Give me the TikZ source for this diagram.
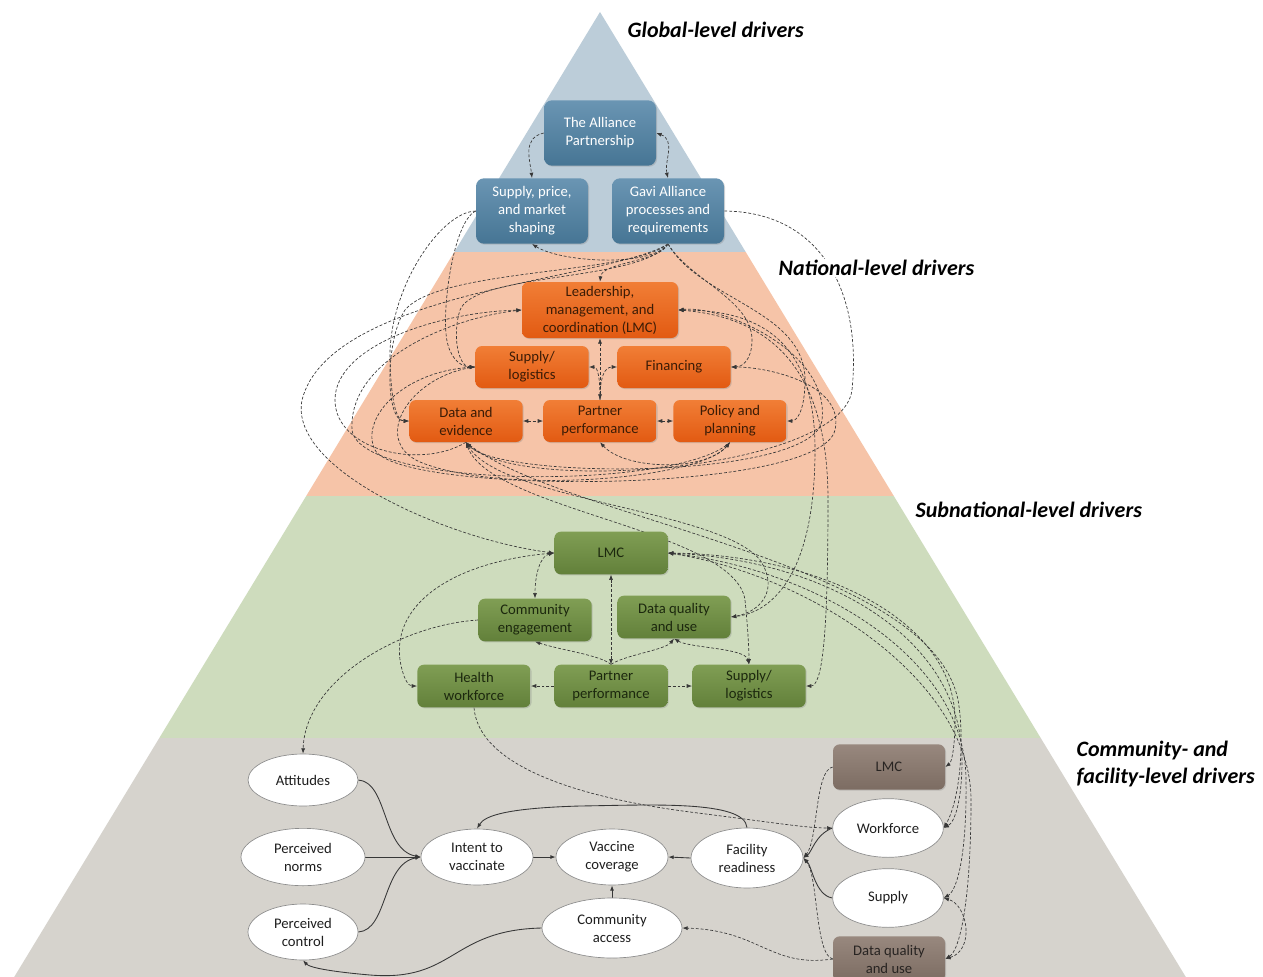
\documentclass[tikz,border=0pt]{standalone}
\usepackage{fontspec}
\setmainfont{Carlito}
\usetikzlibrary{arrows.meta,shadows,shapes.geometric}
\definecolor{cglob}{RGB}{188,205,217}
\definecolor{cnat}{RGB}{246,196,168}
\definecolor{csub}{RGB}{206,220,189}
\definecolor{ccom}{RGB}{214,211,205}
\definecolor{gtop}{RGB}{106,149,179}
\definecolor{gbot}{RGB}{70,117,148}
\definecolor{otop}{RGB}{241,126,54}
\definecolor{obot}{RGB}{226,90,18}
\definecolor{stop}{RGB}{128,158,84}
\definecolor{sbot}{RGB}{98,128,58}
\definecolor{btop}{RGB}{152,136,126}
\definecolor{bbot}{RGB}{124,108,98}
\definecolor{lc}{RGB}{55,55,55}
\definecolor{otxt}{RGB}{60,28,6}
\definecolor{stxt}{RGB}{28,40,14}
\definecolor{btxt}{RGB}{40,36,34}
\pgfdeclarelayer{bg}
\pgfdeclarelayer{mid}
\pgfsetlayers{bg,mid,main}
\begin{document}
\begin{tikzpicture}[x=0.75pt,y=-0.75pt,
  txt/.style={font=\fontsize{11}{13.5}\selectfont, align=center},
  shad/.style={drop shadow={shadow xshift=0.8pt,shadow yshift=-0.8pt,opacity=0.3}},
  gbox/.style={txt, shad, rounded corners=6pt, top color=gtop, bottom color=gbot, text=white, minimum width=84pt, minimum height=49pt, inner sep=1pt},
  obox/.style={txt, shad, rounded corners=5pt, top color=otop, bottom color=obot, text=otxt, minimum width=85pt, minimum height=31.5pt, inner sep=1pt},
  sbox/.style={txt, shad, rounded corners=5pt, top color=stop, bottom color=sbot, text=stxt, minimum width=85pt, minimum height=32pt, inner sep=1pt},
  bbox/.style={txt, shad, rounded corners=5pt, top color=btop, bottom color=bbot, text=btxt, minimum width=84pt, minimum height=34pt, inner sep=1pt},
  ell/.style={txt, ellipse, fill=white, draw={rgb,255:red,140;green,140;blue,140}, line width=0.5pt, inner sep=0pt, text={rgb,255:red,30;green,30;blue,30}},
  dl/.style={draw=lc, line width=0.5pt, dash pattern=on 2.2pt off 1.4pt},
  sl/.style={draw=lc, line width=0.65pt},
  ar/.style={-{Latex[length=4pt,width=3pt]}},
  br/.style={{Latex[length=4pt,width=3pt]}-{Latex[length=4pt,width=3pt]}},
  lab/.style={font=\fontsize{16.5}{20}\selectfont\bfseries\itshape, anchor=west, inner sep=1pt, fill=white, align=left}
]
\useasboundingbox (0,0) rectangle (1263,977);
\begin{pgfonlayer}{bg}
\fill[white] (0,0) rectangle (1263,977);
\fill[cglob] (600,12) -- (745.7,252) -- (454.3,252) -- cycle;
\fill[cnat] (454.3,252) -- (745.7,252) -- (893.8,496) -- (306.2,496) -- cycle;
\fill[csub] (306.2,496) -- (893.8,496) -- (1040.7,738) -- (159.3,738) -- cycle;
\fill[ccom] (159.3,738) -- (1040.7,738) -- (1185.8,977) -- (14.2,977) -- cycle;
\end{pgfonlayer}

% Global
\node[gbox] (alli) at (600,133) {The Alliance\\Partnership};
\node[gbox] (spm) at (532,211) {Supply, price,\\and market\\shaping};
\node[gbox] (gavi) at (668,211) {Gavi Alliance\\processes and\\requirements};
% National
\node[obox, minimum width=117pt, minimum height=42pt] (nlmc) at (600,310) {Leadership,\\management, and\\coordination (LMC)};
\node[obox] (nsup) at (532,367) {Supply/\\logistics};
\node[obox] (nfin) at (674,367) {Financing};
\node[obox] (ndat) at (466,421) {Data and\\evidence};
\node[obox] (npar) at (600,421) {Partner\\performance};
\node[obox] (npol) at (730,421) {Policy and\\planning};
% Subnational
\node[sbox] (slmc) at (611,553) {LMC};
\node[sbox] (scom) at (535,620) {Community\\engagement};
\node[sbox] (sdat) at (674,617) {Data quality\\and use};
\node[sbox] (shw) at (474,686) {Health\\workforce};
\node[sbox] (spar) at (611,686) {Partner\\performance};
\node[sbox] (ssup) at (749,686) {Supply/\\logistics};
% Community
\node[ell, minimum width=82.5pt, minimum height=39pt] (att) at (303,780) {Attitudes};
\node[ell, minimum width=93pt, minimum height=43pt] (norm) at (303,857) {Perceived\\norms};
\node[ell, minimum width=82.5pt, minimum height=42pt] (ctrl) at (303,932) {Perceived\\control};
\node[ell, minimum width=84pt, minimum height=42pt] (intent) at (477,857) {Intent to\\vaccinate};
\node[ell, minimum width=84pt, minimum height=42pt] (vacc) at (612,857) {Vaccine\\coverage};
\node[ell, minimum width=84pt, minimum height=45pt] (fac) at (747,858) {Facility\\readiness};
\node[ell, minimum width=105pt, minimum height=45pt] (cacc) at (612,928) {Community\\access};
\node[ell, minimum width=83pt, minimum height=44pt] (cwork) at (888,828) {Workforce};
\node[ell, minimum width=83pt, minimum height=44pt] (csup) at (888,898) {Supply};
\node[bbox] (clmc) at (889,767) {LMC};
\node[bbox] (cdat) at (889,959) {Data quality\\and use};

\begin{pgfonlayer}{mid}
% global
\draw[dl,ar] (alli.west) .. controls (522,138) and (530,160) .. (spm.north);
\draw[dl,br] (alli.east) .. controls (676,140) and (664,162) .. (gavi.north);
\draw[dl,ar] (gavi.south) .. controls (650,268) and (560,262) .. (spm.south);
\draw[dl,ar] (gavi.south) .. controls (660,262) and (602,262) .. (nlmc.north);
% global -> national left
\draw[dl,ar] (spm.west) .. controls (440,212) and (388,290) .. (390,360) .. controls (391,400) and (396,421) .. (ndat.west);
\draw[dl,ar] (spm.west) .. controls (452,222) and (440,320) .. (448,345) .. controls (452,360) and (462,367) .. (nsup.west);
\draw[dl,ar] (gavi.south) .. controls (630,275) and (440,268) .. (405,310) .. controls (385,340) and (385,421) .. (ndat.west);
\draw[dl,ar] (gavi.south) .. controls (640,282) and (475,272) .. (460,310) .. controls (452,335) and (458,367) .. (nsup.west);
\draw[dl,ar] (gavi.south) .. controls (610,280) and (330,290) .. (302,400) .. controls (288,470) and (450,540) .. (slmc.west);
% loops into national LMC west
\draw[dl,ar] (ndat.south) .. controls (420,470) and (335,450) .. (335,400) .. controls (335,345) and (440,312) .. (nlmc.west);
\draw[dl,ar] (npol.south) .. controls (680,490) and (360,490) .. (352,430) .. controls (348,360) and (450,318) .. (nlmc.west);
% bottom loops
\draw[dl,br] (nsup.west) .. controls (400,372) and (360,420) .. (375,450) .. controls (400,495) and (820,495) .. (835,430) .. controls (845,385) and (770,367) .. (nfin.east);
\draw[dl,ar] (nsup.west) .. controls (410,375) and (370,440) .. (420,462) .. controls (500,495) and (700,480) .. (npol.south);
\draw[dl,br] (npar.south) .. controls (625,470) and (705,472) .. (npol.south);
\draw[dl,br] (nlmc.east) .. controls (720,305) and (830,350) .. (822,420) .. controls (815,480) and (500,480) .. (ndat.south);
\draw[dl,ar] (gavi.east) .. controls (820,212) and (862,290) .. (852,390) .. controls (842,470) and (520,495) .. (ndat.south);
% right side from Gavi
\draw[dl,ar] (gavi.south) .. controls (690,280) and (752,300) .. (752,340) .. controls (752,360) and (742,367) .. (nfin.east);
\draw[dl,ar] (gavi.south) .. controls (700,300) and (805,310) .. (805,380) .. controls (805,410) and (797,421) .. (npol.east);
% national internal
\draw[dl,br] (nlmc.south) -- (npar.north);
\draw[dl,ar] (npar.north) .. controls (600,378) and (598,367) .. (nsup.east);
\draw[dl,ar] (npar.north) .. controls (600,378) and (604,367) .. (nfin.west);
\draw[dl,br] (ndat.east) -- (npar.west);
\draw[dl,br] (npar.east) -- (npol.west);
% national -> subnational
\draw[dl,br] (nlmc.east) .. controls (770,310) and (815,350) .. (815,450) .. controls (815,570) and (775,612) .. (sdat.east);
\draw[dl,br] (nlmc.east) .. controls (780,318) and (828,380) .. (828,500) .. controls (828,640) and (822,686) .. (ssup.east);
\draw[dl,br] (ndat.south) .. controls (490,510) and (735,530) .. (745,600) .. controls (748,630) and (749,650) .. (ssup.north);
\draw[dl,br] (ndat.south) .. controls (500,500) and (720,510) .. (760,560) .. controls (780,590) and (760,612) .. (sdat.east);
\draw[dl,ar] (ndat.south) .. controls (560,520) and (930,560) .. (958,700) .. controls (965,740) and (960,800) .. (cwork.east);
% subnational fan to community
\draw[dl,br] (slmc.east) .. controls (820,555) and (955,620) .. (955,720) .. controls (955,745) and (952,762) .. (clmc.east);
\draw[dl,br] (slmc.east) .. controls (830,560) and (962,640) .. (962,760) .. controls (962,800) and (955,822) .. (cwork.east);
\draw[dl,br] (slmc.east) .. controls (820,570) and (966,660) .. (966,780) .. controls (967,850) and (958,890) .. (csup.east);
\draw[dl,br] (slmc.east) .. controls (810,575) and (971,680) .. (971,800) .. controls (971,900) and (960,950) .. (cdat.east);
% subnational internal
\draw[dl,br] (slmc.south) -- (spar.north);
\draw[dl,br] (slmc.west) .. controls (540,556) and (535,575) .. (scom.north);
\draw[dl,ar] (spar.north) .. controls (600,655) and (560,650) .. (scom.south);
\draw[dl,ar] (spar.north) .. controls (625,655) and (665,650) .. (sdat.south);
\draw[dl,br] (sdat.south) .. controls (690,648) and (745,648) .. (ssup.north);
\draw[dl,ar] (spar.west) -- (shw.east);
\draw[dl,ar] (spar.east) -- (ssup.west);
\draw[dl,ar] (slmc.west) .. controls (460,560) and (392,600) .. (400,660) .. controls (403,678) and (408,686) .. (shw.west);
\draw[dl,ar] (scom.west) .. controls (400,625) and (305,680) .. (att.north);
\draw[dl,ar] (shw.south) .. controls (478,760) and (560,795) .. (690,812) .. controls (770,822) and (805,828) .. (cwork.west);
% community
\draw[sl,ar] (att.east) .. controls (388,782) and (382,850) .. (intent.west);
\draw[sl,ar] (norm.east) -- (intent.west);
\draw[sl,ar] (ctrl.east) .. controls (388,930) and (382,864) .. (intent.west);
\draw[sl,ar] (intent.east) -- (vacc.west);
\draw[sl,ar] (fac.west) -- (vacc.east);
\draw[sl,ar] (cacc.north) -- (vacc.south);
\draw[sl,ar] (cacc.west) .. controls (450,930) and (455,982) .. (370,975) .. controls (335,972) and (310,968) .. (ctrl.south);
\draw[sl,ar] (fac.north) .. controls (745,800) and (650,805) .. (580,806) .. controls (510,808) and (485,815) .. (intent.north);
\draw[sl,ar] (cwork.west) .. controls (815,835) and (812,852) .. (fac.east);
\draw[sl,ar] (csup.west) .. controls (815,895) and (812,866) .. (fac.east);
\draw[dl,ar] (clmc.west) .. controls (815,770) and (818,840) .. (fac.east);
\draw[dl,ar] (cdat.west) .. controls (815,955) and (818,875) .. (fac.east);
\draw[dl,ar] (cdat.west) .. controls (770,968) and (760,930) .. (cacc.east);
\draw[dl,br] (cdat.east) .. controls (975,950) and (968,905) .. (csup.east);
\end{pgfonlayer}

% level labels
\node[lab] (lglob) at (626,30) {Global-level drivers};
\node[lab] (lnat) at (777,268) {National-level drivers};
\node[lab] (lsub) at (914,510) {Subnational-level drivers};
\node[lab] (lcom) at (1075,764) {Community- and\\facility-level drivers};
\end{tikzpicture}
\end{document}
